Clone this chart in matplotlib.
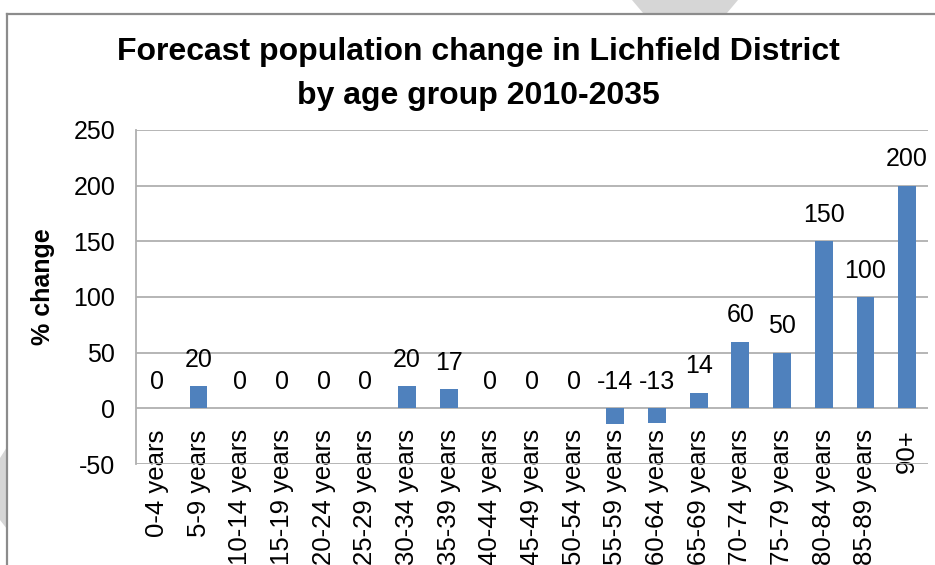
"""Прогноз изменения населения Lichfield District по возрастным группам."""

import matplotlib
matplotlib.use("Agg")
import matplotlib.pyplot as plt
from matplotlib.lines import Line2D
from matplotlib.patches import Polygon

age_groups = [
    "0-4 years", "5-9 years", "10-14 years", "15-19 years", "20-24 years",
    "25-29 years", "30-34 years", "35-39 years", "40-44 years", "45-49 years",
    "50-54 years", "55-59 years", "60-64 years", "65-69 years", "70-74 years",
    "75-79 years", "80-84 years", "85-89 years", "90+",
]
pct_change = [0, 20, 0, 0, 0, 0, 20, 17, 0, 0, 0, -14, -13, 14, 60, 50, 150, 100, 200]
y_ticks = [-50, 0, 50, 100, 150, 200, 250]

W, H = 935, 565
plt.rcParams["font.family"] = ["Liberation Sans", "DejaVu Sans"]
plt.rcParams["axes.unicode_minus"] = False

fig = plt.figure(figsize=(W / 100, H / 100), dpi=100)


def fx(px):
    return px / W


def fy(py):
    return 1 - py / H


# декоративные серые фигуры за рамкой
fig.patches.append(Polygon(
    [(fx(632), fy(0)), (fx(738), fy(0)), (fx(727), fy(13)), (fx(643), fy(13))],
    closed=True, transform=fig.transFigure, facecolor="#d6d6d6", edgecolor="none"))
fig.patches.append(Polygon(
    [(fx(0), fy(458)), (fx(7), fy(447)), (fx(7), fy(529)), (fx(0), fy(520))],
    closed=True, transform=fig.transFigure, facecolor="#d6d6d6", edgecolor="none"))

# рамка диаграммы (уходит за правый и нижний край)
frame_kw = dict(transform=fig.transFigure, color="#8c8c8c", linewidth=1.6)
fig.lines.append(Line2D([fx(7), fx(W)], [fy(13.5), fy(13.5)], **frame_kw))
fig.lines.append(Line2D([fx(7), fx(7)], [fy(13.5), fy(H)], **frame_kw))

ax = fig.add_axes([fx(136), fy(464), fx(928) - fx(136), fy(130) - fy(464)])
x = list(range(len(age_groups)))
ax.bar(x, pct_change, width=0.43, color="#4F81BD", zorder=3)

for xi, v in zip(x, pct_change):
    ax.annotate(f"{v}", (xi, max(v, 0)), xytext=(0, 14), textcoords="offset points",
                ha="center", va="baseline", fontsize=18, zorder=4)

# категориальная ось пересекает значения в нуле
ax.spines["bottom"].set_position(("data", 0))
ax.spines["bottom"].set_visible(False)
for side in ("top", "right"):
    ax.spines[side].set_visible(False)
ax.spines["left"].set_color("#b0b0b0")
ax.spines["left"].set_linewidth(1.3)

ax.set_xlim(-0.5, len(age_groups) - 0.5)
ax.set_ylim(-50, 250)
ax.set_yticks(y_ticks)
ax.yaxis.grid(True, color="#b0b0b0", linewidth=1.3, zorder=0)
ax.set_axisbelow(True)

ax.set_xticks(x)
ax.set_xticklabels(age_groups, rotation=90, fontsize=18.5, va="top", ha="center")
ax.tick_params(axis="x", length=0, pad=15)
ax.tick_params(axis="y", length=0, pad=15, labelsize=18)

fig.text(fx(43), fy(287), "% change", rotation=90, fontsize=18, fontweight="bold",
         ha="center", va="center")
fig.text(fx(478), fy(60), "Forecast population change in Lichfield District",
         fontsize=23, fontweight="bold", ha="center", va="baseline")
fig.text(fx(478), fy(104), "by age group 2010-2035",
         fontsize=23, fontweight="bold", ha="center", va="baseline")

fig.savefig("out.png", dpi=100)
plt.close(fig)
